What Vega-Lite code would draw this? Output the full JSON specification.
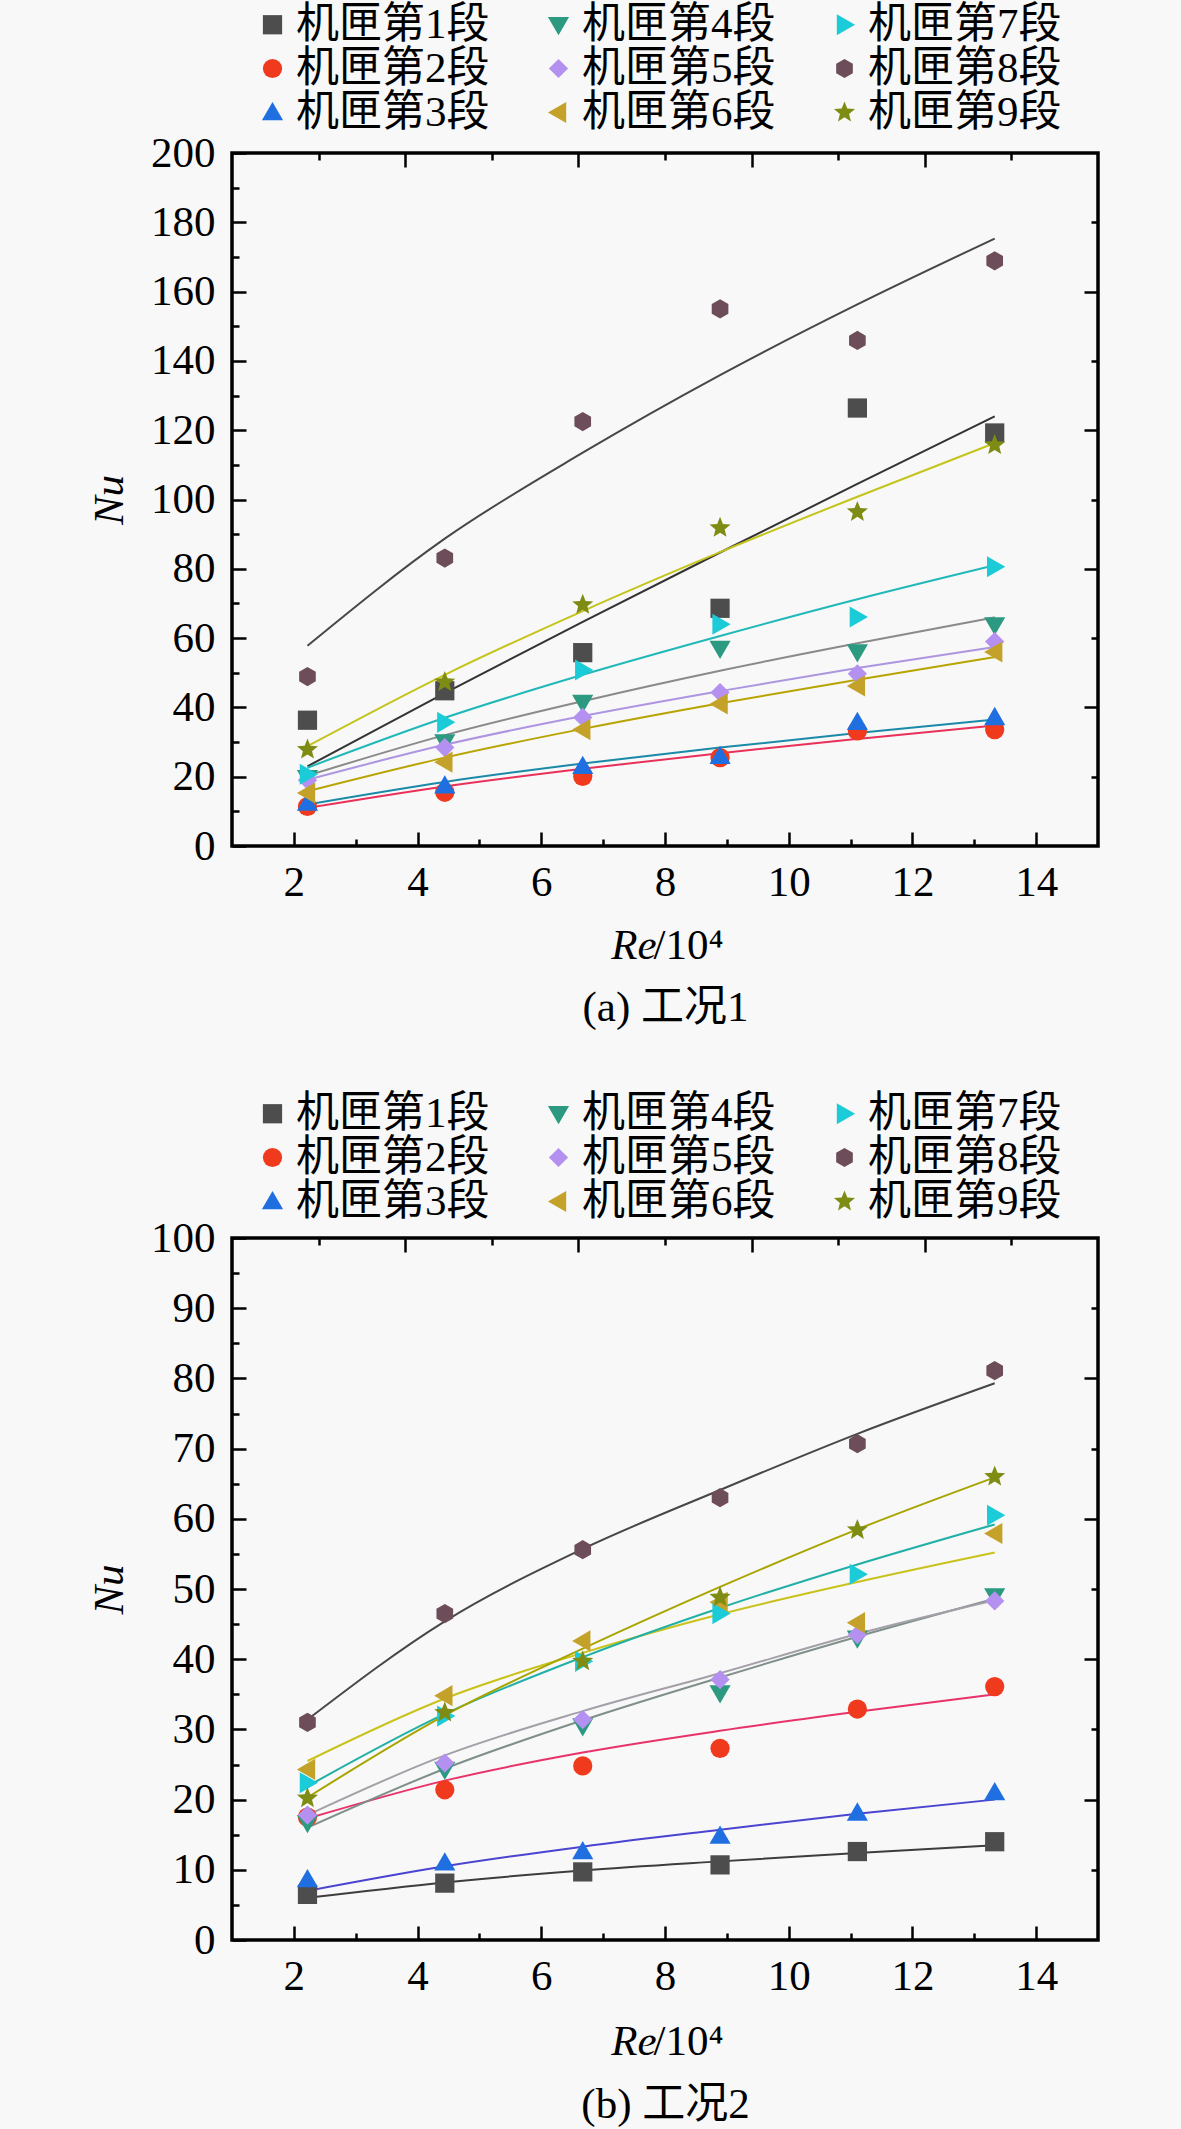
{
  "$schema": "https://vega.github.io/schema/vega-lite/v6.json",
  "autosize": {"type": "none"},
  "padding": {"left": 232, "top": 153, "right": 949, "bottom": 1976},
  "background": "#f8f8f8",
  "config": {
    "view": {"stroke": "black", "strokeWidth": 3.5, "fill": null},
    "axis": {
      "grid": false, "domain": false,
      "tickColor": "black", "tickWidth": 2.5,
      "labelColor": "black", "labelFont": "Liberation Serif", "labelFontSize": 43,
      "titleColor": "black", "titleFont": "Liberation Serif", "titleFontSize": 43, "titleFontWeight": "normal"
    },
    "legend": {
      "orient": "none", "columns": 3, "columnPadding": 47, "rowPadding": 0,
      "labelFont": "Liberation Serif, Noto Sans CJK SC", "labelFontSize": 43, "labelColor": "black",
      "labelLimit": 400, "labelOffset": 2, "symbolSize": 370, "symbolStrokeWidth": 0
    }
  },
  "datasets": {
    "ptsA": [
      {"s":"机匣第1段","x":2.22,"nu":36.3},{"s":"机匣第1段","x":4.44,"nu":44.8},{"s":"机匣第1段","x":6.67,"nu":55.8},{"s":"机匣第1段","x":8.89,"nu":68.6},{"s":"机匣第1段","x":11.11,"nu":126.4},{"s":"机匣第1段","x":13.33,"nu":119.2},
      {"s":"机匣第2段","x":2.22,"nu":11.4},{"s":"机匣第2段","x":4.44,"nu":15.5},{"s":"机匣第2段","x":6.67,"nu":20.1},{"s":"机匣第2段","x":8.89,"nu":25.5},{"s":"机匣第2段","x":11.11,"nu":33.2},{"s":"机匣第2段","x":13.33,"nu":33.6},
      {"s":"机匣第3段","x":2.22,"nu":12.4},{"s":"机匣第3段","x":4.44,"nu":17.4},{"s":"机匣第3段","x":6.67,"nu":23.0},{"s":"机匣第3段","x":8.89,"nu":25.9},{"s":"机匣第3段","x":11.11,"nu":35.7},{"s":"机匣第3段","x":13.33,"nu":37.1},
      {"s":"机匣第4段","x":2.22,"nu":19.7},{"s":"机匣第4段","x":4.44,"nu":30.0},{"s":"机匣第4段","x":6.67,"nu":41.4},{"s":"机匣第4段","x":8.89,"nu":57.0},{"s":"机匣第4段","x":11.11,"nu":56.0},{"s":"机匣第4段","x":13.33,"nu":63.8},
      {"s":"机匣第5段","x":2.22,"nu":19.0},{"s":"机匣第5段","x":4.44,"nu":28.4},{"s":"机匣第5段","x":6.67,"nu":37.1},{"s":"机匣第5段","x":8.89,"nu":44.3},{"s":"机匣第5段","x":11.11,"nu":49.7},{"s":"机匣第5段","x":13.33,"nu":59.0},
      {"s":"机匣第6段","x":2.22,"nu":15.3},{"s":"机匣第6段","x":4.44,"nu":24.2},{"s":"机匣第6段","x":6.67,"nu":33.6},{"s":"机匣第6段","x":8.89,"nu":41.0},{"s":"机匣第6段","x":11.11,"nu":46.2},{"s":"机匣第6段","x":13.33,"nu":56.0},
      {"s":"机匣第7段","x":2.22,"nu":20.7},{"s":"机匣第7段","x":4.44,"nu":35.7},{"s":"机匣第7段","x":6.67,"nu":50.8},{"s":"机匣第7段","x":8.89,"nu":64.0},{"s":"机匣第7段","x":11.11,"nu":66.1},{"s":"机匣第7段","x":13.33,"nu":80.6},
      {"s":"机匣第8段","x":2.22,"nu":48.9},{"s":"机匣第8段","x":4.44,"nu":83.1},{"s":"机匣第8段","x":6.67,"nu":122.5},{"s":"机匣第8段","x":8.89,"nu":155.0},{"s":"机匣第8段","x":11.11,"nu":145.9},{"s":"机匣第8段","x":13.33,"nu":168.9},
      {"s":"机匣第9段","x":2.22,"nu":27.8},{"s":"机匣第9段","x":4.44,"nu":47.3},{"s":"机匣第9段","x":6.67,"nu":69.6},{"s":"机匣第9段","x":8.89,"nu":91.8},{"s":"机匣第9段","x":11.11,"nu":96.4},{"s":"机匣第9段","x":13.33,"nu":115.7}
    ],
    "fitA": [
      {"seg":"1","x":2.22,"nu":23.0},{"seg":"1","x":4.44,"nu":44.1},{"seg":"1","x":6.67,"nu":64.7},{"seg":"1","x":8.89,"nu":84.7},{"seg":"1","x":11.11,"nu":104.5},{"seg":"1","x":13.33,"nu":124.0},
      {"seg":"2","x":2.22,"nu":11.0},{"seg":"2","x":4.44,"nu":17.2},{"seg":"2","x":6.67,"nu":22.3},{"seg":"2","x":8.89,"nu":26.8},{"seg":"2","x":11.11,"nu":30.9},{"seg":"2","x":13.33,"nu":34.8},
      {"seg":"3","x":2.22,"nu":12.0},{"seg":"3","x":4.44,"nu":18.5},{"seg":"3","x":6.67,"nu":23.8},{"seg":"3","x":8.89,"nu":28.4},{"seg":"3","x":11.11,"nu":32.6},{"seg":"3","x":13.33,"nu":36.5},
      {"seg":"4","x":2.22,"nu":20.3},{"seg":"4","x":4.44,"nu":32.0},{"seg":"4","x":6.67,"nu":41.8},{"seg":"4","x":8.89,"nu":50.6},{"seg":"4","x":11.11,"nu":58.5},{"seg":"4","x":13.33,"nu":66.0},
      {"seg":"5","x":2.22,"nu":19.1},{"seg":"5","x":4.44,"nu":29.2},{"seg":"5","x":6.67,"nu":37.5},{"seg":"5","x":8.89,"nu":44.7},{"seg":"5","x":11.11,"nu":51.4},{"seg":"5","x":13.33,"nu":57.4},
      {"seg":"6","x":2.22,"nu":15.8},{"seg":"6","x":4.44,"nu":25.5},{"seg":"6","x":6.67,"nu":33.8},{"seg":"6","x":8.89,"nu":41.2},{"seg":"6","x":11.11,"nu":48.0},{"seg":"6","x":13.33,"nu":54.5},
      {"seg":"7","x":2.22,"nu":22.6},{"seg":"7","x":4.44,"nu":37.0},{"seg":"7","x":6.67,"nu":49.4},{"seg":"7","x":8.89,"nu":60.6},{"seg":"7","x":11.11,"nu":71.2},{"seg":"7","x":13.33,"nu":81.0},
      {"seg":"8","x":2.22,"nu":57.8},{"seg":"8","x":4.44,"nu":88.7},{"seg":"8","x":6.67,"nu":113.5},{"seg":"8","x":8.89,"nu":135.9},{"seg":"8","x":11.11,"nu":156.3},{"seg":"8","x":13.33,"nu":175.3},
      {"seg":"9","x":2.22,"nu":28.8},{"seg":"9","x":4.44,"nu":49.4},{"seg":"9","x":6.67,"nu":67.8},{"seg":"9","x":8.89,"nu":84.8},{"seg":"9","x":11.11,"nu":100.8},{"seg":"9","x":13.33,"nu":116.3}
    ],
    "ptsB": [
      {"s":"机匣第1段","x":2.22,"nu":6.5},{"s":"机匣第1段","x":4.44,"nu":8.1},{"s":"机匣第1段","x":6.67,"nu":9.7},{"s":"机匣第1段","x":8.89,"nu":10.7},{"s":"机匣第1段","x":11.11,"nu":12.6},{"s":"机匣第1段","x":13.33,"nu":14.0},
      {"s":"机匣第2段","x":2.22,"nu":17.5},{"s":"机匣第2段","x":4.44,"nu":21.4},{"s":"机匣第2段","x":6.67,"nu":24.8},{"s":"机匣第2段","x":8.89,"nu":27.3},{"s":"机匣第2段","x":11.11,"nu":32.9},{"s":"机匣第2段","x":13.33,"nu":36.1},
      {"s":"机匣第3段","x":2.22,"nu":8.6},{"s":"机匣第3段","x":4.44,"nu":11.0},{"s":"机匣第3段","x":6.67,"nu":12.6},{"s":"机匣第3段","x":8.89,"nu":14.8},{"s":"机匣第3段","x":11.11,"nu":18.1},{"s":"机匣第3段","x":13.33,"nu":21.0},
      {"s":"机匣第4段","x":2.22,"nu":16.7},{"s":"机匣第4段","x":4.44,"nu":24.3},{"s":"机匣第4段","x":6.67,"nu":30.5},{"s":"机匣第4段","x":8.89,"nu":35.2},{"s":"机匣第4段","x":11.11,"nu":43.0},{"s":"机匣第4段","x":13.33,"nu":49.0},
      {"s":"机匣第5段","x":2.22,"nu":17.8},{"s":"机匣第5段","x":4.44,"nu":25.2},{"s":"机匣第5段","x":6.67,"nu":31.4},{"s":"机匣第5段","x":8.89,"nu":37.1},{"s":"机匣第5段","x":11.11,"nu":43.5},{"s":"机匣第5段","x":13.33,"nu":48.3},
      {"s":"机匣第6段","x":2.22,"nu":24.3},{"s":"机匣第6段","x":4.44,"nu":34.8},{"s":"机匣第6段","x":6.67,"nu":42.6},{"s":"机匣第6段","x":8.89,"nu":48.1},{"s":"机匣第6段","x":11.11,"nu":45.2},{"s":"机匣第6段","x":13.33,"nu":57.9},
      {"s":"机匣第7段","x":2.22,"nu":22.4},{"s":"机匣第7段","x":4.44,"nu":31.9},{"s":"机匣第7段","x":6.67,"nu":39.7},{"s":"机匣第7段","x":8.89,"nu":46.5},{"s":"机匣第7段","x":11.11,"nu":52.1},{"s":"机匣第7段","x":13.33,"nu":60.5},
      {"s":"机匣第8段","x":2.22,"nu":31.0},{"s":"机匣第8段","x":4.44,"nu":46.5},{"s":"机匣第8段","x":6.67,"nu":55.6},{"s":"机匣第8段","x":8.89,"nu":63.0},{"s":"机匣第8段","x":11.11,"nu":70.7},{"s":"机匣第8段","x":13.33,"nu":81.1},
      {"s":"机匣第9段","x":2.22,"nu":20.2},{"s":"机匣第9段","x":4.44,"nu":32.4},{"s":"机匣第9段","x":6.67,"nu":39.7},{"s":"机匣第9段","x":8.89,"nu":48.8},{"s":"机匣第9段","x":11.11,"nu":58.4},{"s":"机匣第9段","x":13.33,"nu":66.0}
    ],
    "fitB": [
      {"seg":"1","x":2.22,"nu":6.0},{"seg":"1","x":4.44,"nu":8.2},{"seg":"1","x":6.67,"nu":9.9},{"seg":"1","x":8.89,"nu":11.2},{"seg":"1","x":11.11,"nu":12.4},{"seg":"1","x":13.33,"nu":13.5},
      {"seg":"2","x":2.22,"nu":17.3},{"seg":"2","x":4.44,"nu":22.7},{"seg":"2","x":6.67,"nu":26.7},{"seg":"2","x":8.89,"nu":29.8},{"seg":"2","x":11.11,"nu":32.5},{"seg":"2","x":13.33,"nu":35.0},
      {"seg":"3","x":2.22,"nu":7.0},{"seg":"3","x":4.44,"nu":10.5},{"seg":"3","x":6.67,"nu":13.3},{"seg":"3","x":8.89,"nu":15.7},{"seg":"3","x":11.11,"nu":18.0},{"seg":"3","x":13.33,"nu":20.0},
      {"seg":"4","x":2.22,"nu":16.0},{"seg":"4","x":4.44,"nu":24.4},{"seg":"4","x":6.67,"nu":31.3},{"seg":"4","x":8.89,"nu":37.4},{"seg":"4","x":11.11,"nu":43.2},{"seg":"4","x":13.33,"nu":48.6},
      {"seg":"5","x":2.22,"nu":17.8},{"seg":"5","x":4.44,"nu":26.3},{"seg":"5","x":6.67,"nu":32.6},{"seg":"5","x":8.89,"nu":38.0},{"seg":"5","x":11.11,"nu":43.6},{"seg":"5","x":13.33,"nu":48.4},
      {"seg":"6","x":2.22,"nu":25.5},{"seg":"6","x":4.44,"nu":34.4},{"seg":"6","x":6.67,"nu":40.9},{"seg":"6","x":8.89,"nu":46.4},{"seg":"6","x":11.11,"nu":51.0},{"seg":"6","x":13.33,"nu":55.2},
      {"seg":"7","x":2.22,"nu":21.9},{"seg":"7","x":4.44,"nu":32.2},{"seg":"7","x":6.67,"nu":40.3},{"seg":"7","x":8.89,"nu":47.3},{"seg":"7","x":11.11,"nu":53.5},{"seg":"7","x":13.33,"nu":59.2},
      {"seg":"8","x":2.22,"nu":31.4},{"seg":"8","x":4.44,"nu":45.4},{"seg":"8","x":6.67,"nu":55.7},{"seg":"8","x":8.89,"nu":64.1},{"seg":"8","x":11.11,"nu":72.1},{"seg":"8","x":13.33,"nu":79.3},
      {"seg":"9","x":2.22,"nu":20.3},{"seg":"9","x":4.44,"nu":32.0},{"seg":"9","x":6.67,"nu":41.5},{"seg":"9","x":8.89,"nu":50.3},{"seg":"9","x":11.11,"nu":58.5},{"seg":"9","x":13.33,"nu":65.9}
    ]
  },
  "vconcat": [
    {
      "width": 866,
      "height": 693,
      "resolve": {"axis": {"x": "independent", "y": "independent"}},
      "layer": [
        {
          "data": {"name": "fitA"},
          "mark": {"type": "line", "interpolate": "monotone", "strokeWidth": 2},
          "encoding": {
            "x": {"field": "x", "type": "quantitative", "scale": {"domain": [1, 15], "nice": false, "zero": false},
              "axis": {"orient": "bottom", "values": [2, 4, 6, 8, 10, 12, 14], "labels": false, "tickSize": -14,
                "title": "/10⁴", "titleX": 421, "titleY": 99, "titleAlign": "left", "titleBaseline": "middle"}},
            "y": {"field": "nu", "type": "quantitative", "scale": {"domain": [0, 200], "nice": false, "zero": false},
              "axis": {"orient": "left", "values": [0, 20, 40, 60, 80, 100, 120, 140, 160, 180, 200], "labels": false, "tickSize": -14, "title": null}},
            "stroke": {"field": "seg", "type": "nominal", "legend": null,
              "scale": {"domain": ["1","2","3","4","5","6","7","8","9"],
                "range": ["#333333", "#e8305a", "#1a8aa8", "#8a8a8a", "#ad95e0", "#b8a400", "#20b8b8", "#474747", "#c4c41c"]}}
          }
        },
        {
          "data": {"name": "ptsA"},
          "mark": {"type": "point", "filled": true, "size": 370, "opacity": 1},
          "encoding": {
            "x": {"field": "x", "type": "quantitative", "scale": {"domain": [1, 15], "nice": false, "zero": false},
              "axis": {"orient": "bottom", "values": [2, 4, 6, 8, 10, 12, 14], "ticks": false, "labelPadding": 15,
                "title": "Re", "titleFontStyle": "italic", "titleX": 424, "titleY": 99, "titleAlign": "right", "titleBaseline": "middle"}},
            "y": {"field": "nu", "type": "quantitative", "scale": {"domain": [0, 200], "nice": false, "zero": false},
              "axis": {"orient": "left", "values": [0, 20, 40, 60, 80, 100, 120, 140, 160, 180, 200], "ticks": false, "labelPadding": 17,
                "title": "Nu", "titleFontStyle": "italic", "titleX": -123, "titleY": 346.5, "titleAngle": -90, "titleAlign": "center", "titleBaseline": "middle"}},
            "color": {"field": "s", "type": "nominal",
              "scale": {"domain": ["机匣第1段","机匣第2段","机匣第3段","机匣第4段","机匣第5段","机匣第6段","机匣第7段","机匣第8段","机匣第9段"],
                "range": ["#4d4d4d", "#f03a1e", "#1f6fe0", "#2b9a80", "#b490f0", "#c4a22a", "#1ccbd8", "#6e4d5a", "#7f8c14"]},
              "legend": {"title": null, "legendX": 19, "legendY": -150}},
            "shape": {"field": "s", "type": "nominal",
              "scale": {"domain": ["机匣第1段","机匣第2段","机匣第3段","机匣第4段","机匣第5段","机匣第6段","机匣第7段","机匣第8段","机匣第9段"],
                "range": ["square", "circle", "M0,-1.1L1.1,0.8L-1.1,0.8Z", "M0,1.1L1.1,-0.8L-1.1,-0.8Z", "diamond",
                  "M-1.1,0L0.8,1.1L0.8,-1.1Z", "M1.1,0L-0.8,1.1L-0.8,-1.1Z",
                  "M0,-1L0.866,-0.5L0.866,0.5L0,1L-0.866,0.5L-0.866,-0.5Z",
                  "M0,-1.15L0.294,-0.405L1.094,-0.355L0.476,0.155L0.676,0.93L0,0.5L-0.676,0.93L-0.476,0.155L-1.094,-0.355L-0.294,-0.405Z"]},
              "legend": {"title": null, "legendX": 19, "legendY": -150}}
          }
        },
        {
          "data": {"name": "ptsA"},
          "mark": {"type": "point", "opacity": 0},
          "encoding": {
            "x": {"field": "x", "type": "quantitative", "scale": {"domain": [1, 15], "nice": false, "zero": false},
              "axis": {"orient": "bottom", "values": [3, 5, 7, 9, 11, 13], "labels": false, "tickSize": -7,
                "title": "(a) 工况1", "titleFont": "Liberation Serif, Noto Sans CJK SC", "titleX": 433, "titleY": 161, "titleAlign": "center", "titleBaseline": "middle"}},
            "y": {"field": "nu", "type": "quantitative", "scale": {"domain": [0, 200], "nice": false, "zero": false},
              "axis": {"orient": "left", "values": [10, 30, 50, 70, 90, 110, 130, 150, 170, 190], "labels": false, "tickSize": -7, "title": null}}
          }
        },
        {
          "data": {"name": "ptsA"},
          "mark": {"type": "point", "opacity": 0},
          "encoding": {
            "x": {"field": "x", "type": "quantitative", "scale": {"domain": [1, 15], "nice": false, "zero": false},
              "axis": {"orient": "top", "values": [3.8, 6.6, 9.4, 12.2], "labels": false, "tickSize": -14, "title": null}},
            "y": {"field": "nu", "type": "quantitative", "scale": {"domain": [0, 200], "nice": false, "zero": false},
              "axis": {"orient": "right", "values": [40, 80, 120, 160], "labels": false, "tickSize": -14, "title": null}}
          }
        },
        {
          "data": {"name": "ptsA"},
          "mark": {"type": "point", "opacity": 0},
          "encoding": {
            "x": {"field": "x", "type": "quantitative", "scale": {"domain": [1, 15], "nice": false, "zero": false},
              "axis": {"orient": "top", "values": [2.4, 5.2, 8.0, 10.8, 13.6], "labels": false, "tickSize": -7, "title": null}},
            "y": {"field": "nu", "type": "quantitative", "scale": {"domain": [0, 200], "nice": false, "zero": false},
              "axis": {"orient": "right", "values": [20, 60, 100, 140, 180], "labels": false, "tickSize": -7, "title": null}}
          }
        }
      ]
    },
    {
      "width": 866,
      "height": 702,
      "resolve": {"axis": {"x": "independent", "y": "independent"}},
      "layer": [
        {
          "data": {"name": "fitB"},
          "mark": {"type": "line", "interpolate": "monotone", "strokeWidth": 2},
          "encoding": {
            "x": {"field": "x", "type": "quantitative", "scale": {"domain": [1, 15], "nice": false, "zero": false},
              "axis": {"orient": "bottom", "values": [2, 4, 6, 8, 10, 12, 14], "labels": false, "tickSize": -14,
                "title": "/10⁴", "titleX": 421, "titleY": 101, "titleAlign": "left", "titleBaseline": "middle"}},
            "y": {"field": "nu", "type": "quantitative", "scale": {"domain": [0, 100], "nice": false, "zero": false},
              "axis": {"orient": "left", "values": [0, 10, 20, 30, 40, 50, 60, 70, 80, 90, 100], "labels": false, "tickSize": -14, "title": null}},
            "stroke": {"field": "seg", "type": "nominal", "legend": null,
              "scale": {"domain": ["1","2","3","4","5","6","7","8","9"],
                "range": ["#3d3d3d", "#e8336a", "#4a44d0", "#7f8f8a", "#a3a0a8", "#c9c21a", "#22b0a6", "#474747", "#a8a500"]}}
          }
        },
        {
          "data": {"name": "ptsB"},
          "mark": {"type": "point", "filled": true, "size": 370, "opacity": 1},
          "encoding": {
            "x": {"field": "x", "type": "quantitative", "scale": {"domain": [1, 15], "nice": false, "zero": false},
              "axis": {"orient": "bottom", "values": [2, 4, 6, 8, 10, 12, 14], "ticks": false, "labelPadding": 15,
                "title": "Re", "titleFontStyle": "italic", "titleX": 424, "titleY": 101, "titleAlign": "right", "titleBaseline": "middle"}},
            "y": {"field": "nu", "type": "quantitative", "scale": {"domain": [0, 100], "nice": false, "zero": false},
              "axis": {"orient": "left", "values": [0, 10, 20, 30, 40, 50, 60, 70, 80, 90, 100], "ticks": false, "labelPadding": 17,
                "title": "Nu", "titleFontStyle": "italic", "titleX": -123, "titleY": 351, "titleAngle": -90, "titleAlign": "center", "titleBaseline": "middle"}},
            "color": {"field": "s", "type": "nominal",
              "scale": {"domain": ["机匣第1段","机匣第2段","机匣第3段","机匣第4段","机匣第5段","机匣第6段","机匣第7段","机匣第8段","机匣第9段"],
                "range": ["#4d4d4d", "#f03a1e", "#1f6fe0", "#2b9a80", "#b490f0", "#c4a22a", "#1ccbd8", "#6e4d5a", "#7f8c14"]},
              "legend": {"title": null, "legendX": 19, "legendY": -146}},
            "shape": {"field": "s", "type": "nominal",
              "scale": {"domain": ["机匣第1段","机匣第2段","机匣第3段","机匣第4段","机匣第5段","机匣第6段","机匣第7段","机匣第8段","机匣第9段"],
                "range": ["square", "circle", "M0,-1.1L1.1,0.8L-1.1,0.8Z", "M0,1.1L1.1,-0.8L-1.1,-0.8Z", "diamond",
                  "M-1.1,0L0.8,1.1L0.8,-1.1Z", "M1.1,0L-0.8,1.1L-0.8,-1.1Z",
                  "M0,-1L0.866,-0.5L0.866,0.5L0,1L-0.866,0.5L-0.866,-0.5Z",
                  "M0,-1.15L0.294,-0.405L1.094,-0.355L0.476,0.155L0.676,0.93L0,0.5L-0.676,0.93L-0.476,0.155L-1.094,-0.355L-0.294,-0.405Z"]},
              "legend": {"title": null, "legendX": 19, "legendY": -146}}
          }
        },
        {
          "data": {"name": "ptsB"},
          "mark": {"type": "point", "opacity": 0},
          "encoding": {
            "x": {"field": "x", "type": "quantitative", "scale": {"domain": [1, 15], "nice": false, "zero": false},
              "axis": {"orient": "bottom", "values": [3, 5, 7, 9, 11, 13], "labels": false, "tickSize": -7,
                "title": "(b) 工况2", "titleFont": "Liberation Serif, Noto Sans CJK SC", "titleX": 433, "titleY": 164, "titleAlign": "center", "titleBaseline": "middle"}},
            "y": {"field": "nu", "type": "quantitative", "scale": {"domain": [0, 100], "nice": false, "zero": false},
              "axis": {"orient": "left", "values": [5, 15, 25, 35, 45, 55, 65, 75, 85, 95], "labels": false, "tickSize": -7, "title": null}}
          }
        },
        {
          "data": {"name": "ptsB"},
          "mark": {"type": "point", "opacity": 0},
          "encoding": {
            "x": {"field": "x", "type": "quantitative", "scale": {"domain": [1, 15], "nice": false, "zero": false},
              "axis": {"orient": "top", "values": [3.8, 6.6, 9.4, 12.2], "labels": false, "tickSize": -14, "title": null}},
            "y": {"field": "nu", "type": "quantitative", "scale": {"domain": [0, 100], "nice": false, "zero": false},
              "axis": {"orient": "right", "values": [20, 40, 60, 80], "labels": false, "tickSize": -14, "title": null}}
          }
        },
        {
          "data": {"name": "ptsB"},
          "mark": {"type": "point", "opacity": 0},
          "encoding": {
            "x": {"field": "x", "type": "quantitative", "scale": {"domain": [1, 15], "nice": false, "zero": false},
              "axis": {"orient": "top", "values": [2.4, 5.2, 8.0, 10.8, 13.6], "labels": false, "tickSize": -7, "title": null}},
            "y": {"field": "nu", "type": "quantitative", "scale": {"domain": [0, 100], "nice": false, "zero": false},
              "axis": {"orient": "right", "values": [10, 30, 50, 70, 90], "labels": false, "tickSize": -7, "title": null}}
          }
        }
      ]
    }
  ],
  "spacing": 392,
  "bounds": "flush",
  "resolve": {"scale": {"color": "independent", "shape": "independent", "stroke": "independent"}}
}
